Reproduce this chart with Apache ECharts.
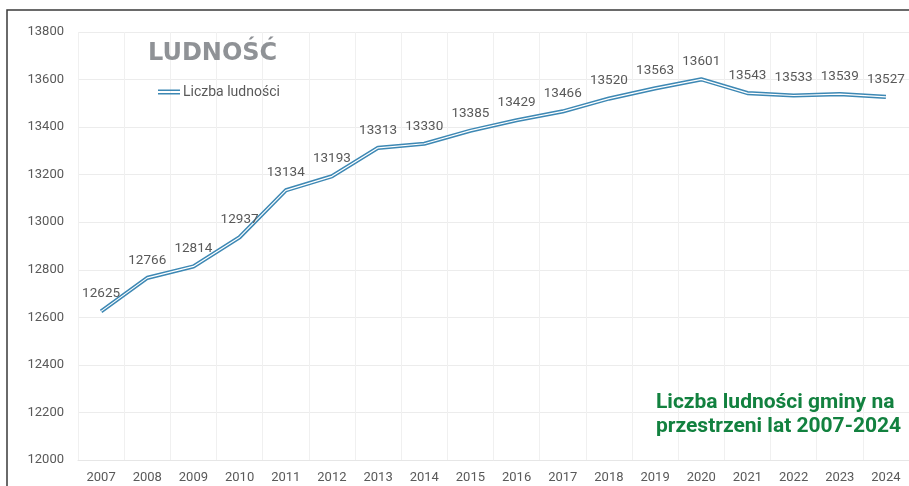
<!DOCTYPE html>
<html>
<head>
<meta charset="utf-8">
<script src="https://cdn.jsdelivr.net/npm/echarts@6/dist/echarts.min.js"></script>
<style>
	html, body { margin: 0; padding: 0; background: #fff; }
	#chart { width: 909px; height: 486px; }
</style>
</head>
<body>
<div id="chart"></div>
<script>
// lata i liczba ludności
const years = ['2007', '2008', '2009', '2010', '2011', '2012', '2013', '2014', '2015',
	'2016', '2017', '2018', '2019', '2020', '2021', '2022', '2023', '2024']
const population = [12625, 12766, 12814, 12937, 13134, 13193, 13313, 13330, 13385,
	13429, 13466, 13520, 13563, 13601, 13543, 13533, 13539, 13527]

const LINE_BLUE = '#3d88b4'
const TEXT_GRAY = '#595959'
const FONT = 'Roboto, "Noto Sans", sans-serif'

const myChart = echarts.init(document.getElementById('chart'))
const option = {
	animation: false,
	backgroundColor: '#fff',
	title: {
		text: 'LUDNOŚĆ',
		left: 143,
		top: 37,
		textStyle: {
			color: '#8f9296',
			fontSize: 24,
			fontWeight: 'bold',
			fontFamily: '"DejaVu Sans", sans-serif',
		},
	},
	legend: {
		data: ['Liczba ludności'],
		left: 153,
		top: 80,
		itemWidth: 22,
		itemHeight: 5,
		itemGap: 4,
		icon: 'path://M0,0H22V1.6H0Z M0,3.4H22V5H0Z',
		textStyle: { color: TEXT_GRAY, fontSize: 14, fontFamily: FONT, padding: [0, 0, 0, -2] },
	},
	grid: {
		left: 78,
		right: -5,
		top: 32,
		bottom: 26,
	},
	xAxis: {
		type: 'category',
		data: years,
		boundaryGap: true,
		axisLine: { show: true, lineStyle: { color: '#e6e6e6' } },
		axisTick: { show: false },
		splitLine: { show: true, lineStyle: { color: '#f0f0f0' } },
		axisLabel: { color: TEXT_GRAY, fontSize: 13, fontFamily: FONT, margin: 11 },
	},
	yAxis: {
		type: 'value',
		min: 12000,
		max: 13800,
		interval: 200,
		axisLine: { show: false },
		axisTick: { show: false },
		splitLine: { lineStyle: { color: '#ececec' } },
		axisLabel: {
			color: TEXT_GRAY,
			fontSize: 13,
			fontFamily: FONT,
			margin: 14,
			formatter: (val) => String(val),
		},
	},
	series: [
		{
			name: 'Liczba ludności',
			type: 'line',
			data: population,
			showSymbol: false,
			color: LINE_BLUE,
			lineStyle: { color: LINE_BLUE, width: 4.2 },
			z: 2,
		},
		{
			// biały środek podwójnej linii + etykiety
			name: 'inner',
			type: 'line',
			data: population,
			showSymbol: true,
			symbol: 'circle',
			symbolSize: 1,
			itemStyle: { color: 'rgba(255,255,255,0)', borderWidth: 0 },
			silent: true,
			lineStyle: { color: '#ffffff', width: 1.2 },
			label: {
				show: true,
				position: 'top',
				distance: 10,
				color: TEXT_GRAY,
				fontSize: 13.5,
				fontFamily: FONT,
			},
			z: 3,
		},
	],
	graphic: [
		{
			type: 'rect',
			shape: { x: 7, y: 10, width: 1000, height: 600 },
			style: { fill: 'none', stroke: '#3a3a3a', lineWidth: 1.5 },
			silent: true,
			z: 100,
		},
		{
			type: 'text',
			left: 656,
			top: 391,
			z: 100,
			style: {
				text: 'Liczba ludności gminy na\nprzestrzeni lat 2007-2024',
				fill: '#12813f',
				font: 'bold 21px ' + FONT,
				lineHeight: 24,
			},
		},
	],
}
myChart.setOption(option)
</script>
</body>
</html>
